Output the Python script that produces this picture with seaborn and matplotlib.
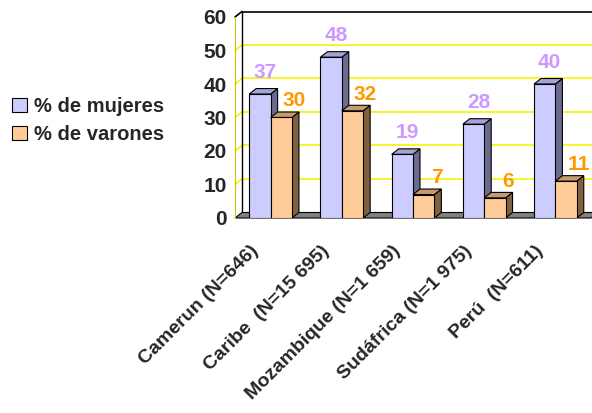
import numpy as np
import pandas as pd
import matplotlib
matplotlib.use("Agg")
import matplotlib.pyplot as plt
from matplotlib.patches import Polygon, Patch
from matplotlib.transforms import ScaledTranslation
import seaborn as sns

# datos
paises = ["Camerun (N=646)", "Caribe  (N=15 695)", "Mozambique (N=1 659)",
          "Sudáfrica (N=1 975)", "Perú  (N=611)"]
series = ["% de mujeres", "% de varones"]
mujeres = [37, 48, 19, 28, 40]
varones = [30, 32, 7, 6, 11]
yticks = [0, 10, 20, 30, 40, 50, 60]

cara = {series[0]: "#CCCCFF", series[1]: "#FFCC99"}
lado = {series[0]: "#6B6B8F", series[1]: "#80603F"}
techo = {series[0]: "#A3A3D6", series[1]: "#C79A6E"}
color_num = {series[0]: "#CC99FF", series[1]: "#FF9900"}

sns.set_style("white")
plt.rcParams["font.family"] = ["Liberation Sans", "DejaVu Sans"]
plt.rcParams["font.weight"] = "bold"

df = pd.DataFrame({
    "pais": paises * 2,
    "serie": [series[0]] * len(paises) + [series[1]] * len(paises),
    "valor": mujeres + varones,
})

fig = plt.figure(figsize=(5.92, 4.13), dpi=100)
ax = fig.add_axes([235 / 592, 1 - 218 / 413, 356 / 592, 201 / 413])

sns.barplot(data=df, x="pais", y="valor", hue="serie", hue_order=series,
            palette=cara, width=0.6, saturation=1, edgecolor="black",
            linewidth=0.8, legend=False, ax=ax)
barras = list(ax.patches)

ax.set_xlim(-0.5, 4.5)
ax.set_ylim(0, 60)

# profundidad del efecto 3D (en unidades de datos)
ddx = 7 / (356 / 5)
ddy = 5.5 / (201 / 60)

# pared del fondo
x0, x1 = -0.5, 4.5
for y in yticks[1:]:
    col = "black" if y == 60 else "#F5F500"
    ax.plot([x0 + ddx, x1 + ddx], [y + ddy, y + ddy], color=col, lw=1.2,
            clip_on=False, zorder=0.5)
    ax.plot([x0, x0 + ddx], [y, y + ddy], color=col, lw=1.2,
            clip_on=False, zorder=0.5)
ax.plot([x0 + ddx, x0 + ddx], [ddy, 60 + ddy], color="black", lw=1,
        clip_on=False, zorder=0.6)

# piso
ax.add_patch(Polygon([(x0, 0), (x1, 0), (x1 + ddx, ddy), (x0 + ddx, ddy)],
                     closed=True, facecolor="#808080", edgecolor="black",
                     lw=0.8, clip_on=False, zorder=1))

# caras laterales y superiores de las barras
n = len(paises)
for i, p in enumerate(barras):
    k = i // n
    s = series[k]
    c = i % n
    z = 3 + c * 0.1 + k * 0.05
    x, w, h = p.get_x(), p.get_width(), p.get_height()
    p.set_zorder(z + 0.01)
    ax.add_patch(Polygon([(x + w, 0), (x + w + ddx, ddy), (x + w + ddx, h + ddy), (x + w, h)],
                         closed=True, facecolor=lado[s], edgecolor="black",
                         lw=0.8, zorder=z))
    ax.add_patch(Polygon([(x, h), (x + ddx, h + ddy), (x + w + ddx, h + ddy), (x + w, h)],
                         closed=True, facecolor=techo[s], edgecolor="black",
                         lw=0.8, zorder=z))
    offx = 3.6 if k == 0 else 9.4
    offy = 15.5 if k == 0 else 12
    ax.annotate(f"{h:.0f}", xy=(x + w / 2, h), xytext=(offx, offy),
                textcoords="offset points", ha="center", va="center",
                fontsize=15, fontweight="bold", color=color_num[s],
                annotation_clip=False, zorder=10)

# ejes
for side in ["top", "right", "bottom"]:
    ax.spines[side].set_visible(False)
ax.spines["left"].set_color("#C8C800")
ax.set_xlabel("")
ax.set_ylabel("")
ax.set_yticks(yticks)
ax.tick_params(axis="y", length=4, color="#C8C800", labelsize=15, pad=2)
ax.set_xticks(range(n))
ax.set_xticklabels(paises, rotation=45, ha="right", va="center",
                   rotation_mode="anchor", fontsize=14, fontweight="bold")
ax.set_xticks(np.arange(-0.5, n, 1), minor=True)
ax.tick_params(axis="x", which="major", length=0, pad=22)
ax.tick_params(axis="x", which="minor", length=5, color="#404040", width=0.8)
desplaza = ScaledTranslation(-15 / 100, 0, fig.dpi_scale_trans)
for lab in ax.get_xticklabels():
    lab.set_transform(lab.get_transform() + desplaza)
for lab in ax.get_yticklabels():
    lab.set_fontweight("bold")

# leyenda
manejadores = [Patch(facecolor=cara[s], edgecolor="black", lw=0.8) for s in series]
fig.legend(handles=manejadores, labels=series, loc="upper left",
           bbox_to_anchor=(12 / 592, 1 - 97 / 413), frameon=False,
           prop={"size": 14.5, "weight": "bold"}, handlelength=0.75,
           handleheight=0.75, handletextpad=0.35, labelspacing=0.45,
           borderaxespad=0, borderpad=0)

fig.savefig("out.png", dpi=100)
